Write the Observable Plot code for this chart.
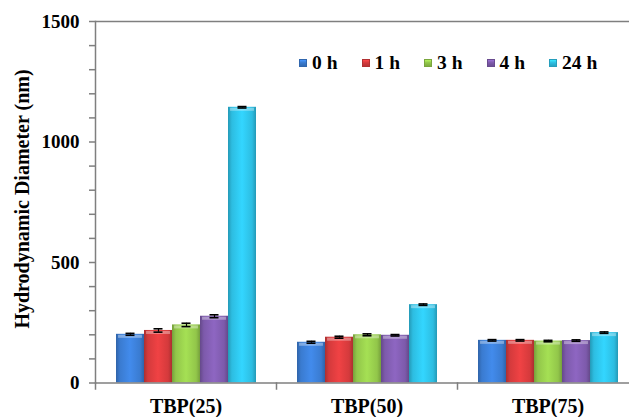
<!DOCTYPE html>
<html><head><meta charset="utf-8">
<script src="https://cdn.jsdelivr.net/npm/d3@7"></script>
<script src="https://cdn.jsdelivr.net/npm/@observablehq/plot@0.6"></script>
<style>
html,body{margin:0;padding:0;background:#fff;overflow:hidden;}
#wrap{position:relative;width:629px;height:417px;font-family:"Liberation Serif","Times New Roman",serif;font-weight:bold;color:#000;}
#legend{position:absolute;left:299px;top:53px;display:flex;font-size:19.5px;line-height:20px;}
.item{display:flex;align-items:center;width:62.5px;white-space:nowrap;}
.sw{width:8px;height:8px;margin-right:5px;box-sizing:border-box;}
#ytitle{position:absolute;left:21.5px;top:199px;transform:translate(-50%,-50%) rotate(-90deg);font-size:20px;line-height:20px;white-space:nowrap;}
</style></head><body>
<svg width="0" height="0" style="position:absolute"><defs id="defs"></defs></svg>
<div id="wrap"><div id="legend"></div><div id="ytitle"></div></div>
<script>
const groups = ["TBP(25)", "TBP(50)", "TBP(75)"];
const series = ["0 h", "1 h", "3 h", "4 h", "24 h"];
const tbp25 = [202, 218, 241, 277, 1144];
const tbp50 = [169, 190, 200, 198, 325];
const tbp75 = [177, 177, 174, 176, 209];
const err25 = [4, 7, 7, 6, 3];
const err50 = [4, 4, 4, 3, 3];
const err75 = [3, 3, 3, 3, 3];
const yMajorTicks = [0, 500, 1000, 1500];
const yMinorTicks = [0, 100, 200, 300, 400, 500, 600, 700, 800, 900, 1000, 1100, 1200, 1300, 1400, 1500];
const yTitle = "Hydrodynamic Diameter (nm)";
const colors = ["#3a7bd0", "#d43a3c", "#92c64a", "#7d5aab", "#2dbde1"];

const values = [tbp25, tbp50, tbp75];
const errs = [err25, err50, err75];
const data = groups.flatMap((g, gi) => series.map((s, si) => ({group: g, series: s, value: values[gi][si], err: errs[gi][si]})));

// gradients
const defs = d3.select("#defs");
colors.forEach((c, i) => {
  const g = defs.append("linearGradient").attr("id", "bar" + i).attr("x1", 0).attr("x2", 1).attr("y1", 0).attr("y2", 0);
  const dark = d3.color(c).darker(0.6).formatHex();
  const light = d3.color(c).brighter(0.35).formatHex();
  [[0, dark], [0.14, c], [0.5, light], [0.86, c], [1, dark]].forEach(([o, col]) =>
    g.append("stop").attr("offset", o).attr("stop-color", col));
});

// legend
const legend = d3.select("#legend");
series.forEach((s, i) => {
  const it = legend.append("div").attr("class", "item");
  it.append("div").attr("class", "sw")
    .style("background", `linear-gradient(to bottom, ${d3.color(colors[i]).brighter(0.6).formatHex()}, ${colors[i]} 45%, ${d3.color(colors[i]).darker(0.4).formatHex()})`)
    .style("border", `1px solid ${d3.color(colors[i]).darker(0.5).formatHex()}`);
  it.append("span").text(s);
});
d3.select("#ytitle").text(yTitle);

const grey = "#7f7f7f";
const chart = Plot.plot({
  width: 629, height: 417,
  marginLeft: 95, marginRight: -9, marginTop: 21, marginBottom: 34.5,
  style: {fontFamily: '"Liberation Serif", "Times New Roman", serif', fontWeight: "bold", fontSize: "19px", color: "#000", background: "transparent"},
  fx: {domain: groups, paddingInner: 0, paddingOuter: 0, axis: null, label: null},
  x: {domain: series, paddingInner: 0, paddingOuter: 0.73, axis: null},
  y: {domain: [0, 1500], axis: null},
  color: {domain: series, range: series.map((s, i) => `url(#bar${i})`)},
  marks: [
    Plot.barY(data, {fx: "group", x: "series", y: "value", fill: "series"}),
    Plot.tickY(data, {fx: "group", x: "series", y: "value", stroke: "white", strokeOpacity: 0.35, strokeWidth: 3, dy: 2, insetLeft: 2, insetRight: 2}),
    Plot.ruleX(data, {fx: "group", x: "series", y1: d => d.value - d.err, y2: d => d.value + d.err, stroke: "#000", strokeWidth: 1.2}),
    Plot.tickY(data, {fx: "group", x: "series", y: d => d.value + d.err, stroke: "#000", strokeWidth: 1.6, insetLeft: 9.5, insetRight: 9.5}),
    Plot.tickY(data, {fx: "group", x: "series", y: d => d.value - d.err, stroke: "#000", strokeWidth: 1.6, insetLeft: 9.5, insetRight: 9.5}),
    Plot.ruleY([0], {stroke: grey, strokeWidth: 1.5}),
    Plot.ruleY([1500], {stroke: grey, strokeWidth: 1.5}),
    Plot.frame({anchor: "left", facetAnchor: "left", stroke: grey, strokeWidth: 1.5}),
    Plot.frame({anchor: "left", insetTop: 361.5, insetBottom: -6, stroke: grey, strokeWidth: 1.5}),
    Plot.axisY(yMinorTicks, {tickSize: 6, tickFormat: () => "", stroke: grey, strokeWidth: 1.5, label: null}),
    Plot.axisY(yMajorTicks, {tickSize: 0, tickPadding: 16, tickFormat: d => String(d), label: null, fontSize: 19}),
    Plot.axisFx({anchor: "bottom", tickSize: 0, tickPadding: 16, fontSize: 20, label: null})
  ]
});
document.getElementById("wrap").insertBefore(chart, document.getElementById("legend"));
</script>
</body></html>
